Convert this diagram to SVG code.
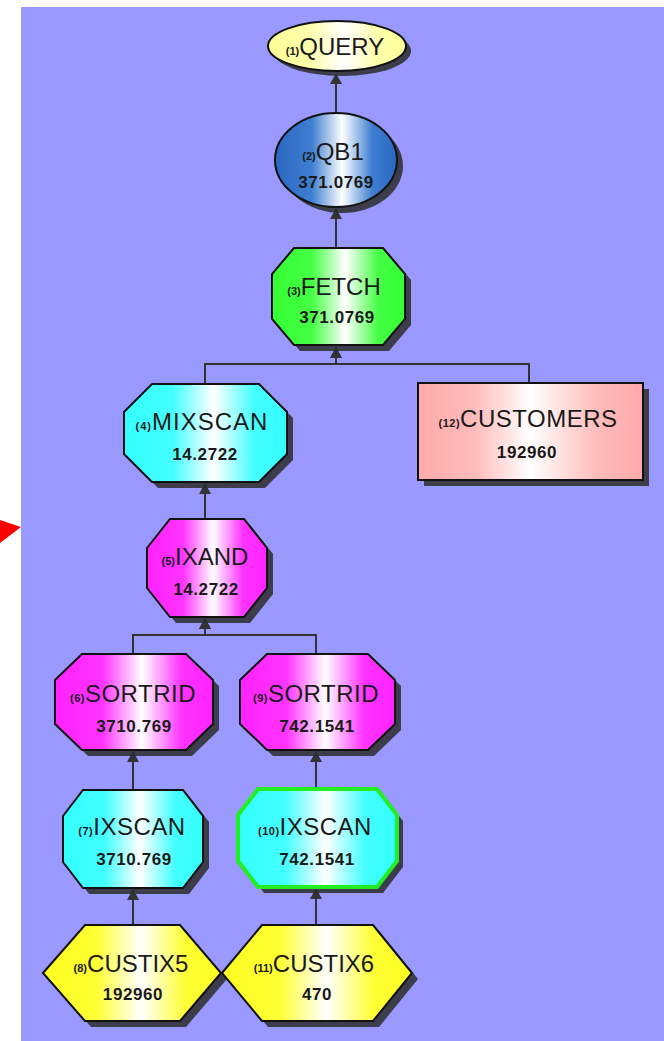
<svg xmlns="http://www.w3.org/2000/svg" width="664" height="1041" viewBox="0 0 664 1041">
<defs>
<style>
.lbl{font-family:"Liberation Sans",Arial,sans-serif;font-size:24px;fill:#1a1a1a;text-anchor:middle}
.pre{font-size:11px;font-weight:bold}
.num{font-family:"Liberation Sans",Arial,sans-serif;font-weight:bold;font-size:17px;fill:#1a1a1a;text-anchor:middle;letter-spacing:0.6px}
.node{stroke:#111;stroke-width:2}
.shd{fill:#2b2b2b;opacity:0.85}
.edge{fill:none;stroke:#333;stroke-width:2}
</style>
<linearGradient id="gY0" x1="0" y1="0" x2="1" y2="0"><stop offset="0" stop-color="#FFFF99"/><stop offset="0.3" stop-color="#FFFFAA"/><stop offset="0.55" stop-color="#FFFFFF"/><stop offset="0.8" stop-color="#FFFFAA"/><stop offset="1" stop-color="#FFFF99"/></linearGradient>
<linearGradient id="gB" x1="0" y1="0" x2="1" y2="0"><stop offset="0" stop-color="#2A66C0"/><stop offset="0.3" stop-color="#3E7ED2"/><stop offset="0.55" stop-color="#FFFFFF"/><stop offset="0.8" stop-color="#3E7ED2"/><stop offset="1" stop-color="#2A66C0"/></linearGradient>
<linearGradient id="gG" x1="0" y1="0" x2="1" y2="0"><stop offset="0" stop-color="#33FF33"/><stop offset="0.3" stop-color="#44FF44"/><stop offset="0.55" stop-color="#FFFFFF"/><stop offset="0.8" stop-color="#44FF44"/><stop offset="1" stop-color="#33FF33"/></linearGradient>
<linearGradient id="gC" x1="0" y1="0" x2="1" y2="0"><stop offset="0" stop-color="#33FFFF"/><stop offset="0.3" stop-color="#44FFFF"/><stop offset="0.55" stop-color="#FFFFFF"/><stop offset="0.8" stop-color="#44FFFF"/><stop offset="1" stop-color="#33FFFF"/></linearGradient>
<linearGradient id="gM" x1="0" y1="0" x2="1" y2="0"><stop offset="0" stop-color="#FF22FF"/><stop offset="0.3" stop-color="#FF33FF"/><stop offset="0.55" stop-color="#FFFFFF"/><stop offset="0.8" stop-color="#FF33FF"/><stop offset="1" stop-color="#FF22FF"/></linearGradient>
<linearGradient id="gP" x1="0" y1="0" x2="1" y2="0"><stop offset="0" stop-color="#FFAAAA"/><stop offset="0.25" stop-color="#FFBBBB"/><stop offset="0.5" stop-color="#FFFFFF"/><stop offset="0.8" stop-color="#FFBBBB"/><stop offset="1" stop-color="#FFAAAA"/></linearGradient>
<linearGradient id="gY" x1="0" y1="0" x2="1" y2="0"><stop offset="0" stop-color="#FFFF22"/><stop offset="0.3" stop-color="#FFFF33"/><stop offset="0.55" stop-color="#FFFFFF"/><stop offset="0.8" stop-color="#FFFF33"/><stop offset="1" stop-color="#FFFF22"/></linearGradient>
<marker id="arr" markerUnits="userSpaceOnUse" markerWidth="12" markerHeight="12" refX="10" refY="6" orient="auto">
<path d="M0,0 L11,6 L0,12 Z" fill="#333"/>
</marker>
</defs>
<rect x="0" y="0" width="664" height="1041" fill="#FFFFFF"/>
<rect x="21" y="7" width="643" height="1034" fill="#9999FF"/>
<polygon points="0,520 21,527 0,543" fill="#FF0000"/>

<g id="connectors">
<path class="edge" d="M336,112 V74" marker-end="url(#arr)"/>
<path class="edge" d="M336,248 V209" marker-end="url(#arr)"/>
<path class="edge" d="M205,384 V364 H336 V348" marker-end="url(#arr)"/>
<path class="edge" d="M529,383 V364 H336 V348" marker-end="url(#arr)"/>
<path class="edge" d="M205,519 V484" marker-end="url(#arr)"/>
<path class="edge" d="M133,654 V635 H205 V619" marker-end="url(#arr)"/>
<path class="edge" d="M316,654 V635 H205 V619" marker-end="url(#arr)"/>
<path class="edge" d="M133,790 V752" marker-end="url(#arr)"/>
<path class="edge" d="M316,789 V752" marker-end="url(#arr)"/>
<path class="edge" d="M133,925 V890" marker-end="url(#arr)"/>
<path class="edge" d="M316,925 V889" marker-end="url(#arr)"/>
</g>

<g id="n1-query">
<ellipse class="shd" cx="342" cy="51" rx="69" ry="25"/>
<ellipse class="node" cx="337" cy="46" rx="69" ry="25" fill="url(#gY0)"/>
<text class="lbl" x="335" y="55"><tspan class="pre">(1)</tspan>QUERY</text>
</g>

<g id="n2-qb1">
<ellipse class="shd" cx="342" cy="166" rx="61" ry="47"/>
<ellipse class="node" cx="336" cy="160" rx="61" ry="47" fill="url(#gB)"/>
<text class="lbl" x="333" y="160"><tspan class="pre">(2)</tspan>QB1</text>
<text class="num" x="336" y="188">371.0769</text>
</g>

<g id="n3-fetch">
<polygon class="shd" transform="translate(6,6)" points="294,248 383,248 405,274 405,319 383,345 294,345 272,319 272,274"/>
<polygon class="node" points="294,248 383,248 405,274 405,319 383,345 294,345 272,319 272,274" fill="url(#gG)"/>
<text class="lbl" x="334" y="295"><tspan class="pre">(3)</tspan>FETCH</text>
<text class="num" x="337" y="323">371.0769</text>
</g>

<g id="n4-mixscan">
<polygon class="shd" transform="translate(6,6)" points="152,384 259,384 287,412 287,454 259,482 152,482 124,454 124,412"/>
<polygon class="node" points="152,384 259,384 287,412 287,454 259,482 152,482 124,454 124,412" fill="url(#gC)"/>
<text class="lbl" x="202" y="430" letter-spacing="1"><tspan class="pre">(4)</tspan>MIXSCAN</text>
<text class="num" x="205" y="460">14.2722</text>
</g>

<g id="n12-customers">
<rect class="shd" x="424" y="389" width="225" height="97"/>
<rect class="node" x="418" y="383" width="225" height="97" fill="url(#gP)"/>
<text class="lbl" x="528" y="427" letter-spacing="0.5"><tspan class="pre">(12)</tspan>CUSTOMERS</text>
<text class="num" x="527" y="458">192960</text>
</g>

<g id="n5-ixand">
<polygon class="shd" transform="translate(6,6)" points="170,519 244,519 267,548 267,588 244,617 170,617 147,588 147,548"/>
<polygon class="node" points="170,519 244,519 267,548 267,588 244,617 170,617 147,588 147,548" fill="url(#gM)"/>
<text class="lbl" x="205" y="565"><tspan class="pre">(5)</tspan>IXAND</text>
<text class="num" x="206" y="595">14.2722</text>
</g>

<g id="n6-sortrid">
<polygon class="shd" transform="translate(6,6)" points="82,654 186,654 213,680 213,724 186,750 82,750 55,724 55,680"/>
<polygon class="node" points="82,654 186,654 213,680 213,724 186,750 82,750 55,724 55,680" fill="url(#gM)"/>
<text class="lbl" x="133" y="702" letter-spacing="0.5"><tspan class="pre">(6)</tspan>SORTRID</text>
<text class="num" x="134" y="732">3710.769</text>
</g>

<g id="n9-sortrid">
<polygon class="shd" transform="translate(6,6)" points="267,654 368,654 395,680 395,724 368,750 267,750 240,724 240,680"/>
<polygon class="node" points="267,654 368,654 395,680 395,724 368,750 267,750 240,724 240,680" fill="url(#gM)"/>
<text class="lbl" x="316" y="702" letter-spacing="0.5"><tspan class="pre">(9)</tspan>SORTRID</text>
<text class="num" x="317" y="732">742.1541</text>
</g>

<g id="n7-ixscan">
<polygon class="shd" transform="translate(6,6)" points="83,790 183,790 203,816 203,862 183,888 83,888 63,862 63,816"/>
<polygon class="node" points="83,790 183,790 203,816 203,862 183,888 83,888 63,862 63,816" fill="url(#gC)"/>
<text class="lbl" x="132" y="835" letter-spacing="0.5"><tspan class="pre">(7)</tspan>IXSCAN</text>
<text class="num" x="134" y="865">3710.769</text>
</g>

<g id="n10-ixscan">
<polygon class="shd" transform="translate(6,6)" points="258,789 377,789 397,815 397,861 377,887 258,887 238,861 238,815"/>
<polygon points="258,789 377,789 397,815 397,861 377,887 258,887 238,861 238,815" fill="url(#gC)" stroke="#22EE22" stroke-width="4"/>
<text class="lbl" x="315" y="835" letter-spacing="0.5"><tspan class="pre">(10)</tspan>IXSCAN</text>
<text class="num" x="317" y="865">742.1541</text>
</g>

<g id="n8-custix5">
<polygon class="shd" transform="translate(6,6)" points="43,973 85,925 180,925 221,973 180,1021 85,1021"/>
<polygon class="node" points="43,973 85,925 180,925 221,973 180,1021 85,1021" fill="url(#gY)"/>
<text class="lbl" x="131" y="972"><tspan class="pre">(8)</tspan>CUSTIX5</text>
<text class="num" x="133" y="1000">192960</text>
</g>

<g id="n11-custix6">
<polygon class="shd" transform="translate(6,6)" points="222,973 262,925 373,925 412,973 373,1021 262,1021"/>
<polygon class="node" points="222,973 262,925 373,925 412,973 373,1021 262,1021" fill="url(#gY)"/>
<text class="lbl" x="314" y="972"><tspan class="pre">(11)</tspan>CUSTIX6</text>
<text class="num" x="317" y="1000">470</text>
</g>
</svg>
